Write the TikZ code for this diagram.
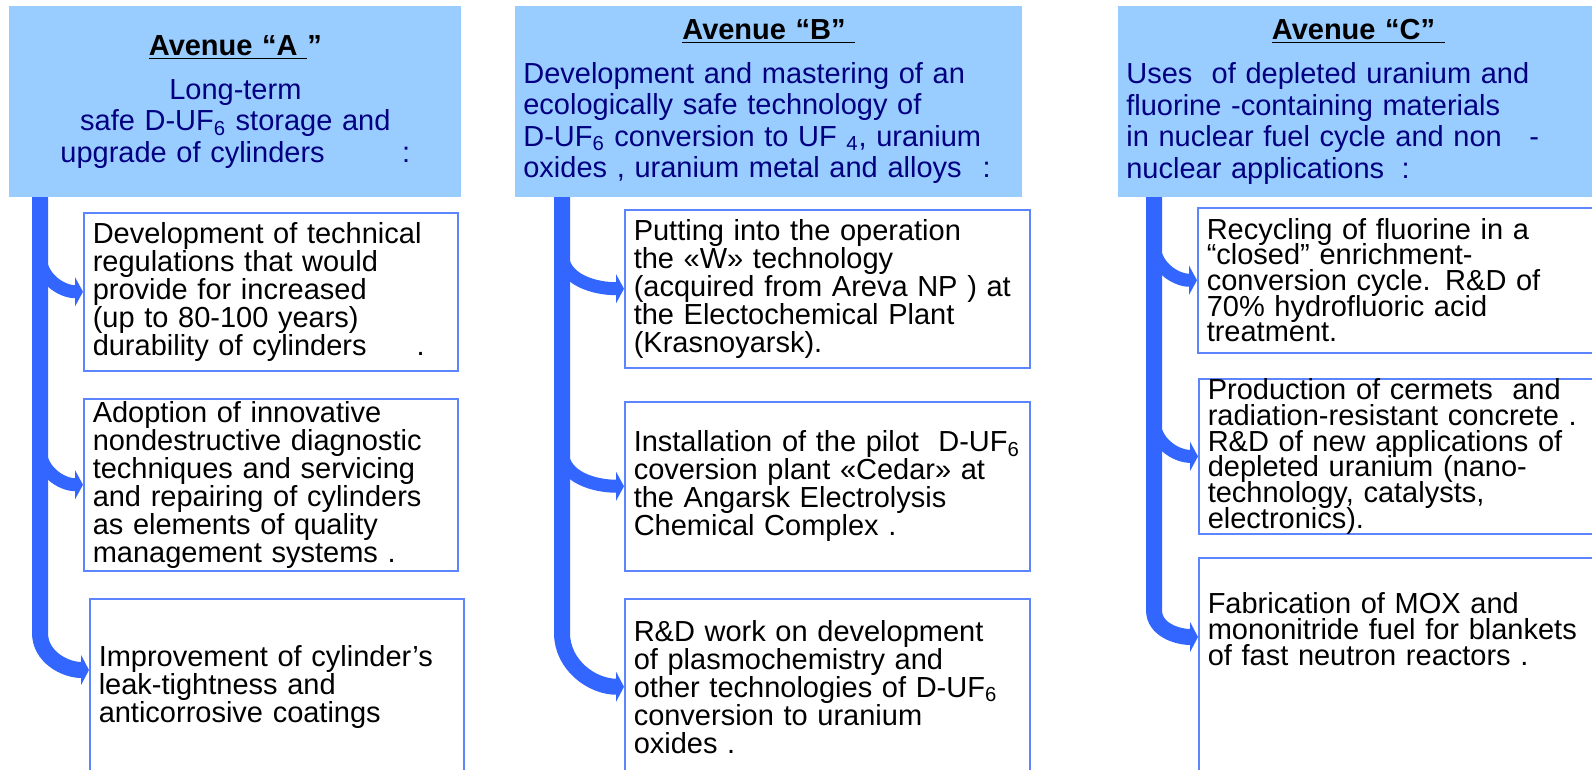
\documentclass[tikz,border=0pt]{standalone}
\usepackage{fontspec}
\setmainfont{Liberation Sans}
\usepackage{xcolor}
\usepackage{tikz}
\usetikzlibrary{positioning,calc,arrows.meta}

\definecolor{headblue}{HTML}{99CCFF}
\definecolor{barblue}{HTML}{3366FF}
\definecolor{edgeblue}{HTML}{5C85FF}
\definecolor{navy}{HTML}{000080}

\newcommand{\headfont}{\fontsize{16.5}{17.9}\selectfont\lineskiplimit=-8pt\relax}
\newcommand{\bodyfont}{\fontsize{16.5}{15.9}\selectfont\lineskiplimit=-8pt\relax}
\newcommand{\tightfont}{\fontsize{16.5}{14.6}\selectfont\lineskiplimit=-8pt\relax}
\newcommand{\avenue}[1]{{\color{black}\bfseries\underline{#1}}}

\begin{document}
\begin{tikzpicture}[
    head/.style={fill=headblue, anchor=north west, minimum height=3.82cm,
      inner xsep=0.16cm, inner ysep=0pt, font=\headfont, text=navy},
    item/.style={draw=edgeblue, line width=0.03cm, fill=white, anchor=north west,
      align=left, inner xsep=0.18cm, inner ysep=0pt, font=\bodyfont},
    trunk/.style={draw=barblue, line width=0.32cm, -{Triangle[length=0.16cm,width=0.6cm]}},
    branch/.style={draw=barblue, line width=0.26cm, -{Triangle[length=0.16cm,width=0.58cm]}}
  ]
    \useasboundingbox (0,0) rectangle (31.84,-15.38);
    \clip (0,0) rectangle (31.84,-15.38);

    % Avenue headers
    \node[head, align=center, text width=8.72cm] (ha) at (0.18,-0.12)
      {\avenue{Avenue “A\ }{\color{black}\bfseries ”}\\[7pt]
       Long-term\\ safe D-UF\textsubscript{6} storage and\\ upgrade of cylinders\hspace{1.55cm}:};
    \node[head, align=left, text width=9.82cm] (hb) at (10.30,-0.12)
      {\makebox[\linewidth]{\avenue{Avenue “B”\ }}\\[7pt]
       Development and mastering of an\\ ecologically safe technology of\\
       D-UF\textsubscript{6} conversion to UF \textsubscript{4}, uranium\\
       oxides , uranium metal and alloys\hspace{0.42cm}:};
    \node[head, align=left, text width=9.28cm] (hc) at (22.36,-0.12)
      {\makebox[\linewidth]{\avenue{Avenue “C”\ }}\\[7pt]
       Uses\ \ of depleted uranium and\\ fluorine -containing materials\\
       in nuclear fuel cycle and non\hspace{0.55cm}-\\ nuclear applications\hspace{0.35cm}:};

    % Avenue A
    \node[item, text width=7.12cm, minimum height=3.16cm] (a1) at (1.66,-4.24)
      {Development of technical\\ regulations that would\\ provide for increased\\
       (up to 80-100 years)\\ durability of cylinders\hspace{1.0cm}.};
    \node[item, text width=7.12cm, minimum height=3.44cm] (a2) at (1.66,-7.96)
      {Adoption of innovative\\ nondestructive diagnostic\\ techniques and servicing\\
       and repairing of cylinders\\ as elements of quality\\ management systems .};
    \node[item, text width=7.12cm, minimum height=3.52cm] (a3) at (1.78,-11.96)
      {Improvement of cylinder’s\\ leak-tightness and\\ anticorrosive coatings};

    % Avenue B
    \node[item, text width=7.74cm, minimum height=3.16cm] (b1) at (12.48,-4.18)
      {Putting into the operation\\ the «W» technology\\ (acquired from Areva NP ) at\\
       the Electochemical Plant\\ (Krasnoyarsk).};
    \node[item, text width=7.74cm, minimum height=3.38cm] (b2) at (12.48,-8.02)
      {Installation of the pilot\ \ D-UF\textsubscript{6}\\ coversion plant «Cedar» at\\
       the Angarsk Electrolysis\\ Chemical Complex .};
    \node[item, text width=7.74cm, minimum height=3.52cm] (b3) at (12.48,-11.96)
      {R\&D work on development\\ of plasmochemistry and\\ other technologies of D-UF\textsubscript{6}\\
       conversion to uranium\\ oxides .};

    % Avenue C
    \node[item, text width=8.04cm, minimum height=2.9cm, font=\tightfont] (c1) at (23.94,-4.14)
      {Recycling of fluorine in a\\ “closed” enrichment-\\ conversion cycle. R\&D of\\
       70\% hydrofluoric acid\\ treatment.};
    \node[item, text width=8.04cm, minimum height=3.1cm, font=\tightfont] (c2) at (23.96,-7.56)
      {Production of cermets\ \ and\\ radiation-resistant concrete .\\ R\&D of new applications of\\
       depleted uranium (nano-\\ technology, catalysts,\\ electronics).};
    \node[item, text width=8.04cm, inner ysep=0.70cm, font=\tightfont] (c3) at (23.96,-11.14)
      {Fabrication of MOX and\\ mononitride fuel for blankets\\ of fast neutron reactors .\\[3cm]\mbox{}};

    % trunks under the headers
    \coordinate (ta) at (0.80,-3.94);
    \coordinate (tb) at (11.24,-3.94);
    \coordinate (tc) at (23.08,-3.94);
    \draw[trunk] (ta) -- ++(0,-8.72) to[out=-90,in=180] ([yshift=-1.44cm]a3.north west);
    \draw[trunk] (tb) -- ++(0,-8.72) to[out=-90,in=180] (b3.west);
    \draw[trunk] (tc) -- ++(0,-8.26) to[out=-90,in=180] ([yshift=-1.6cm]c3.north west);

    % branches
    \foreach \b/\t in {a1/ta,a2/ta,b1/tb,b2/tb,c1/tc,c2/tc}
      \draw[branch] ($(\b.west -| \t)+(0,0.72)$) to[out=-90,in=180] (\b.west);
\end{tikzpicture}
\end{document}
